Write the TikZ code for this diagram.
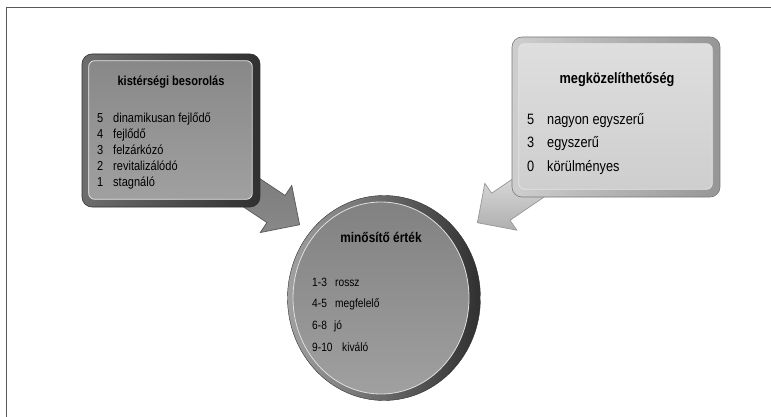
\documentclass[tikz,border=0pt]{standalone}
\usepackage{fontspec}
\setmainfont{Liberation Sans}[FakeStretch=0.85]
\usetikzlibrary{shapes.arrows,shapes.geometric}

\definecolor{rimdark}{RGB}{48,48,48}
\definecolor{rimmid}{RGB}{110,110,110}
\definecolor{facedark}{RGB}{136,136,136}
\definecolor{facemid}{RGB}{160,160,160}
\definecolor{rimlight}{RGB}{150,150,150}
\definecolor{facelight}{RGB}{206,206,206}
\definecolor{facepale}{RGB}{222,222,222}

\tikzset{
  frameline/.style={draw=black!65, line width=1.5pt},
  blockarrow/.style={single arrow, minimum height=70pt, inner xsep=0pt,
    inner ysep=16pt, single arrow head extend=12pt, line width=0.7pt},
  panel/.style={rounded corners=10pt, line width=0.6pt},
  face/.style={rounded corners=6pt, line width=0.8pt, draw=white!80!gray},
  boxtitle/.style={font=\fontsize{#1}{#1}\selectfont\bfseries},
  item/.style={anchor=base west, font=\fontsize{#1}{#1}\selectfont}
}

\begin{document}
\begin{tikzpicture}[x=1pt, y=-1pt, every node/.style={inner sep=0pt}]
  \useasboundingbox (0,0) rectangle (771,417);
  \draw[frameline] (6,7.5) -- (771,7.5);
  \draw[frameline] (6.5,7) -- (6.5,417);

  % arrows behind the boxes
  \coordinate (ltip) at (300,225);
  \coordinate (rtip) at (477,223);
  \node[blockarrow, draw=rimdark!80, top color=rimmid!90, bottom color=facedark,
    shading angle=0, rotate=-33.7, anchor=tip] (larrow) at (ltip) {};
  \node[blockarrow, draw=rimlight, top color=facepale, bottom color=facelight!85!black,
    rotate=214.3, anchor=tip] (rarrow) at (rtip) {};

  % kisterseg
  \node[panel, minimum width=178pt, minimum height=153pt, draw=rimdark,
    left color=rimmid, right color=rimdark] (lbox) at (171,130.5) {};
  \draw[face, top color=facedark, bottom color=facemid]
    ([shift={(7,7)}]lbox.north west) rectangle ([shift={(-8,-8)}]lbox.south east);
  \node[boxtitle=13] (ltitle) at (171,82.5) {kistérségi besorolás};
  \node[item=13] (l5) at (97,122.5) {5};
  \node[item=13] (l4) at (97,138.5) {4};
  \node[item=13] (l3) at (97,154.5) {3};
  \node[item=13] (l2) at (97,170.5) {2};
  \node[item=13] (l1) at (97,186.5) {1};
  \node[item=13] (l5t) at (113,122.5) {dinamikusan fejlődő};
  \node[item=13] (l4t) at (113,138.5) {fejlődő};
  \node[item=13] (l3t) at (113,154.5) {felzárkózó};
  \node[item=13] (l2t) at (113,170.5) {revitalizálódó};
  \node[item=13] (l1t) at (113,186.5) {stagnáló};

  % megkozelithetoseg
  \node[panel, minimum width=208pt, minimum height=160pt, draw=rimlight!80!black,
    left color=facelight, right color=rimlight] (rbox) at (616,117) {};
  \draw[face, top color=facepale, bottom color=facelight]
    ([shift={(7,7)}]rbox.north west) rectangle ([shift={(-8,-8)}]rbox.south east);
  \node[boxtitle=15] (rtitle) at (617,80) {megközelíthetőség};
  \node[item=15] (r5) at (527,124.5) {5};
  \node[item=15] (r3) at (527,148) {3};
  \node[item=15] (r0) at (527,171.5) {0};
  \node[item=15] (r5t) at (547,124.5) {nagyon egyszerű};
  \node[item=15] (r3t) at (547,148) {egyszerű};
  \node[item=15] (r0t) at (547,171.5) {körülményes};

  % minosito ertek
  \node[ellipse, minimum width=193pt, minimum height=205pt, draw=rimdark,
    left color=rimlight!90!white, right color=rimdark] (circ) at (384,298) {};
  \draw[line width=0.8pt, draw=white!75!gray, top color=facedark!95!black, bottom color=facemid]
    ([xshift=-3pt]circ.center) ellipse (88 and 96);
  \node[boxtitle=14] (ctitle) at (381,237) {minősítő érték};
  \node[item=12] (c1) at (312,286) {1-3};
  \node[item=12] (c2) at (312,307.5) {4-5};
  \node[item=12] (c3) at (312,329.5) {6-8};
  \node[item=12] (c4) at (312,351) {9-10};
  \node[item=12] (c1t) at (335,286) {rossz};
  \node[item=12] (c2t) at (335,307.5) {megfelelő};
  \node[item=12] (c3t) at (334,329.5) {jó};
  \node[item=12] (c4t) at (342,351) {kiváló};
\end{tikzpicture}
\end{document}
